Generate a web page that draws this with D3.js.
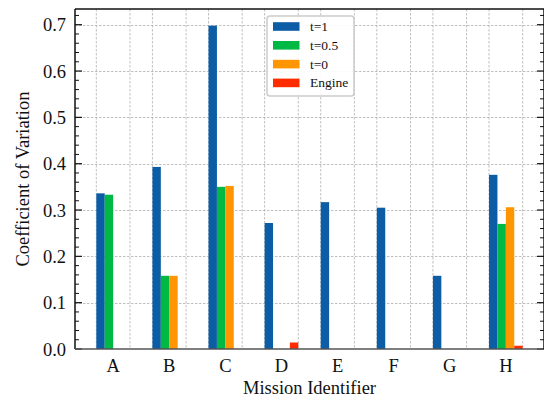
<!DOCTYPE html>
<html>
<head>
<meta charset="utf-8">
<script src="https://cdn.jsdelivr.net/npm/d3@7"></script>
<style>
  html, body { margin: 0; padding: 0; background: #fff; }
  svg { display: block; }
</style>
</head>
<body>
<svg id="chart" width="544" height="401"></svg>
<script>
const categories = ["A", "B", "C", "D", "E", "F", "G", "H"];
const seriesNames = ["t=1", "t=0.5", "t=0", "Engine"];
const seriesColors = ["#0C5DA5", "#00B945", "#FF9500", "#FF2C00"];
const valuesT1 = [0.336, 0.393, 0.698, 0.272, 0.317, 0.305, 0.158, 0.376];
const valuesT05 = [0.333, 0.158, 0.350, null, null, null, null, 0.270];
const valuesT0 = [null, 0.158, 0.352, null, null, null, null, 0.306];
const valuesEngine = [null, null, null, 0.014, null, null, null, 0.007];
const yTicks = [0.0, 0.1, 0.2, 0.3, 0.4, 0.5, 0.6, 0.7];

const allSeries = [valuesT1, valuesT05, valuesT0, valuesEngine];
const FONT = "'Liberation Serif', 'Times New Roman', Times, serif";

const svg = d3.select("#chart").attr("font-family", FONT);
const L = 75, R = 544, T = 9, B = 349;

const x = d3.scaleBand().domain(categories).range([L, R]).paddingInner(0.4).paddingOuter(0.38);
const xs = d3.scaleBand().domain(seriesNames).range([0, x.bandwidth()]);
const y = d3.scaleLinear().domain([0, 0.7339]).range([B, T]);

// grid
const grid = svg.append("g");
grid.selectAll("line.hg").data(yTicks.filter(d => d > 0)).join("line")
  .attr("x1", L).attr("x2", R)
  .attr("y1", d => Math.round(y(d)) + 0.5).attr("y2", d => Math.round(y(d)) + 0.5)
  .attr("stroke", "#b0b0b0").attr("stroke-width", 0.8).attr("stroke-dasharray", "2.5,1.5");
const vgrid = [];
categories.forEach(c => { vgrid.push(x(c)); vgrid.push(x(c) + x.bandwidth()); });
grid.selectAll("line.vg").data(vgrid).join("line")
  .attr("x1", d => d).attr("x2", d => d)
  .attr("y1", T).attr("y2", B)
  .attr("stroke", "#b0b0b0").attr("stroke-width", 0.8).attr("stroke-dasharray", "2.5,1.5");

// bars
allSeries.forEach((vals, si) => {
  svg.append("g").selectAll("rect")
    .data(categories.map((c, i) => ({ c, v: vals[i] })).filter(d => d.v != null))
    .join("rect")
    .attr("x", d => x(d.c) + xs(seriesNames[si]))
    .attr("width", xs.bandwidth())
    .attr("y", d => y(d.v))
    .attr("height", d => B - y(d.v))
    .attr("fill", seriesColors[si]);
});

// y axis left
const minorTicks = d3.range(0, 0.7339, 0.02).filter(v => Math.abs(v * 10 - Math.round(v * 10)) > 1e-6);
const axL = svg.append("g");
axL.selectAll("line.maj").data(yTicks).join("line")
  .attr("x1", L).attr("x2", L + 7)
  .attr("y1", d => y(d)).attr("y2", d => y(d))
  .attr("stroke", "#111").attr("stroke-width", 1.2);
axL.selectAll("line.min").data(minorTicks).join("line")
  .attr("x1", L).attr("x2", L + 4)
  .attr("y1", d => y(d)).attr("y2", d => y(d))
  .attr("stroke", "#111").attr("stroke-width", 1);
axL.selectAll("text").data(yTicks).join("text")
  .attr("x", 66).attr("y", d => y(d) + 6.5)
  .attr("text-anchor", "end").attr("font-size", 18.5).attr("fill", "#111")
  .text(d => d3.format(".1f")(d));

// y axis right ticks
const axR = svg.append("g");
axR.selectAll("line.maj").data(yTicks).join("line")
  .attr("x1", R - 7).attr("x2", R)
  .attr("y1", d => y(d)).attr("y2", d => y(d))
  .attr("stroke", "#111").attr("stroke-width", 1.2);
axR.selectAll("line.min").data(minorTicks).join("line")
  .attr("x1", R - 4).attr("x2", R)
  .attr("y1", d => y(d)).attr("y2", d => y(d))
  .attr("stroke", "#111").attr("stroke-width", 1);

// x labels
svg.append("g").selectAll("text").data(categories).join("text")
  .attr("x", d => x(d) + x.bandwidth() / 2).attr("y", 371.5)
  .attr("text-anchor", "middle").attr("font-size", 18.5).attr("fill", "#111")
  .text(d => d);

// spines
svg.append("line").attr("x1", L).attr("x2", L).attr("y1", T).attr("y2", B).attr("stroke", "#111").attr("stroke-width", 1.5);
svg.append("line").attr("x1", L).attr("x2", R).attr("y1", T).attr("y2", T).attr("stroke", "#111").attr("stroke-width", 1.5);
svg.append("line").attr("x1", L).attr("x2", R).attr("y1", B).attr("y2", B).attr("stroke", "#555").attr("stroke-width", 1.5);
svg.append("line").attr("x1", R).attr("x2", R).attr("y1", T).attr("y2", B).attr("stroke", "#111").attr("stroke-width", 1.5);

// titles
svg.append("text").attr("x", (L + R) / 2).attr("y", 393.5).attr("text-anchor", "middle").attr("font-size", 18.5).attr("fill", "#111").text("Mission Identifier");
svg.append("text").attr("transform", `translate(29,${(T + B) / 2}) rotate(-90)`).attr("text-anchor", "middle").attr("font-size", 18.5).attr("fill", "#111").text("Coefficient of Variation");

// legend
const lg = svg.append("g");
lg.append("rect").attr("x", 267).attr("y", 16).attr("width", 87).attr("height", 80).attr("rx", 3)
  .attr("fill", "#fff").attr("fill-opacity", 0.9).attr("stroke", "#cccccc").attr("stroke-width", 1.5);
seriesNames.forEach((s, i) => {
  const cy = 26.5 + i * 18.8;
  lg.append("rect").attr("x", 273).attr("y", cy - 4.3).attr("width", 26.5).attr("height", 8.6).attr("fill", seriesColors[i]);
  lg.append("text").attr("x", 310).attr("y", cy + 4.5).attr("font-size", 13.5).attr("fill", "#111").text(s);
});
</script>
</body>
</html>
